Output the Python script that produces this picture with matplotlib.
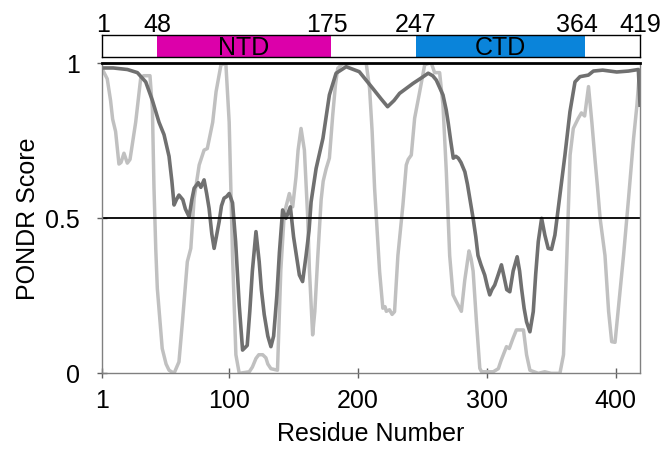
import numpy as np
import matplotlib
matplotlib.use('Agg')
import matplotlib.pyplot as plt
import matplotlib.transforms as mtransforms

plt.rcParams['font.family'] = ['Liberation Sans', 'DejaVu Sans']

# dark grey curve (residue, score)
dark_res = [1, 10, 21, 28.7, 35.2, 40.4, 45.5, 49.4, 53.3, 55.5, 57.2, 59, 61, 64, 66, 68.9,
            71, 72.8, 76, 78, 80.5, 82.5, 84.4, 86.5, 88.3, 90, 92.2, 94, 96, 98, 100,
            102.6, 105, 107.8, 110.4, 114, 116, 118, 120.8, 123.3, 125, 127.2, 130, 132.4,
            134.5, 137, 139, 141.5, 144.1, 147.5, 150, 151.9, 154.5, 157, 159.7, 162, 163.6,
            167.5, 172.8, 177.8, 183, 190.8, 201, 211.5, 218, 223, 228, 232.3, 242.7, 250,
            254.5, 258, 260.8, 266, 268.5, 270, 272, 274, 276, 277.9, 280, 283, 285, 287,
            289.4, 291.5, 293.2, 295.5, 298.4, 300.5, 302.3, 304, 306.2, 308.8, 311.4, 313.5,
            315.5, 317.9, 320.5, 323.6, 325.5, 327, 329, 330.9, 333.5, 336.1, 338, 340, 342.6,
            345.1, 347.7, 350.3, 352.9, 356.8, 360.7, 364.6, 368.5, 372.4, 378.9, 382.8, 390,
            400.9, 410, 417.7, 419]
dark_score = [0.985, 0.985, 0.98, 0.97, 0.94, 0.88, 0.81, 0.77, 0.70, 0.62, 0.543, 0.56, 0.575,
              0.56, 0.53, 0.505, 0.56, 0.597, 0.615, 0.60, 0.624, 0.58, 0.532, 0.45, 0.403,
              0.44, 0.489, 0.54, 0.565, 0.57, 0.58, 0.55, 0.425, 0.22, 0.075, 0.09, 0.20, 0.33,
              0.457, 0.36, 0.27, 0.19, 0.12, 0.086, 0.12, 0.25, 0.39, 0.527, 0.50, 0.537, 0.44,
              0.388, 0.317, 0.296, 0.38, 0.46, 0.553, 0.661, 0.758, 0.898, 0.968, 0.989, 0.973,
              0.919, 0.885, 0.86, 0.88, 0.903, 0.935, 0.955, 0.968, 0.96, 0.946, 0.898, 0.85,
              0.81, 0.75, 0.694, 0.70, 0.694, 0.68, 0.65, 0.61, 0.56, 0.50, 0.44, 0.38, 0.35,
              0.317, 0.28, 0.253, 0.27, 0.285, 0.317, 0.35, 0.31, 0.27, 0.263, 0.33, 0.376,
              0.33, 0.274, 0.21, 0.166, 0.134, 0.199, 0.32, 0.425, 0.50, 0.446, 0.403, 0.40,
              0.446, 0.575, 0.704, 0.844, 0.94, 0.957, 0.962, 0.975, 0.978, 0.972, 0.975, 0.98,
              0.865]

# light grey curve (residue, score)
light_res = [1, 5.3, 7.9, 9.5, 11.8, 14.4, 16, 18.3, 20.9, 23, 27.4, 31.3, 33.5, 36.5, 38.5,
             40.4, 41.6, 43, 44.2, 48, 51, 53.3, 57.2, 61, 63.7, 67.5, 70.2, 72.8, 76.7, 80.5,
             83, 87.2, 89.8, 93.6, 97.4, 100, 102.6, 105.2, 107.8, 115.6, 118, 120.8, 123, 126,
             128.5, 130, 132.4, 137.5, 140.1, 142.8, 146.7, 149.3, 151.9, 153.5, 155.8, 158.4,
             161, 162.3, 164.8, 166.5, 168.7, 171.4, 173, 175.3, 177.8, 179, 180.4, 182.5,
             184.3, 188, 200, 206.4, 209, 211, 212.9, 215, 216.8, 219.3, 221, 222, 224.5, 226.5,
             228.4, 231, 234.9, 237.5, 239, 241.4, 244, 247.9, 251.8, 255, 257, 259.5, 263.4,
             266, 268.6, 271.2, 273.8, 276.4, 279, 280.3, 282.9, 286.2, 287.8, 289.4, 292,
             294.6, 296, 305, 309, 311, 312.9, 315.3, 317.5, 320.4, 323, 328.5, 330.9, 333.5,
             340, 345, 350, 356.8, 359.6, 362.2, 364.7, 367.2, 371.1, 373.5, 376, 379, 381.6,
             384.2, 386, 388, 391.8, 394.6, 397, 399.6, 402.4, 406.2, 410.1, 414, 416.6, 418.6]
light_score = [0.985, 0.95, 0.88, 0.82, 0.78, 0.675, 0.68, 0.71, 0.678, 0.69, 0.81, 0.952,
               0.96, 0.96, 0.96, 0.85, 0.60, 0.40, 0.274, 0.08, 0.03, 0.01, 0.0, 0.037, 0.166,
               0.36, 0.403, 0.565, 0.672, 0.72, 0.725, 0.81, 0.908, 0.995, 1.0, 0.81, 0.38,
               0.06, 0.0, 0.005, 0.02, 0.048, 0.06, 0.06, 0.05, 0.03, 0.015, 0.01, 0.333,
               0.516, 0.58, 0.537, 0.634, 0.72, 0.79, 0.72, 0.50, 0.333, 0.124, 0.20, 0.37,
               0.56, 0.62, 0.66, 0.694, 0.76, 0.833, 0.93, 0.984, 0.998, 1.0, 1.0, 0.919, 0.78,
               0.597, 0.45, 0.328, 0.21, 0.215, 0.20, 0.205, 0.19, 0.199, 0.38, 0.543, 0.672,
               0.69, 0.704, 0.823, 0.908, 0.995, 1.0, 1.0, 0.97, 0.97, 0.866, 0.65, 0.38,
               0.253, 0.231, 0.21, 0.20, 0.30, 0.395, 0.37, 0.33, 0.166, 0.016, 0.005, 0.005,
               0.015, 0.04, 0.06, 0.086, 0.08, 0.113, 0.14, 0.14, 0.06, 0.01, 0.0, 0.005, 0.0,
               0.0, 0.06, 0.38, 0.704, 0.79, 0.823, 0.84, 0.83, 0.925, 0.81, 0.683, 0.60, 0.50,
               0.38, 0.20, 0.102, 0.10, 0.22, 0.38, 0.565, 0.758, 0.865, 0.975]

# domain bar
domain_names = ['NTD', 'CTD']
domain_starts = [44, 245]
domain_ends = [179, 376]
domain_colors = ['#DC00AA', '#0A84DA']
bar_labels = ['1', '48', '175', '247', '364', '419']
bar_label_pos = [2, 44, 176, 245, 370, 419]

x_ticks = [1, 100, 200, 300, 400]
y_ticks = [0, 0.5, 1]
y_ticklabels = ['0', '0.5', '1']

fig = plt.figure(figsize=(6.62, 4.5), dpi=100)
ax = fig.add_axes([0.1536, 0.1704, 0.8132, 0.6889])
bx = fig.add_axes([0.1536, 0.874, 0.8132, 0.048])

# curves
ax.plot(light_res, light_score, color='#c0c0c0', linewidth=2.5, solid_joinstyle='round')
ax.plot(dark_res, dark_score, color='#707070', linewidth=2.6, solid_joinstyle='round')
ax.axhline(0.5, color='black', linewidth=1.3)

ax.set_xlim(1, 419)
ax.set_ylim(0, 1)
ax.set_xticks(x_ticks)
ax.set_yticks(y_ticks)
ax.set_yticklabels(y_ticklabels)
ax.tick_params(direction='inout', length=7, width=1, color='#606060', labelsize=18, pad=8)
ax.tick_params(axis='y', pad=12)
for side in ['left', 'bottom', 'right']:
    ax.spines[side].set_color('#808080')
    ax.spines[side].set_linewidth(1)
ax.spines['top'].set_color('black')
ax.spines['top'].set_linewidth(2)
ax.set_xlabel('Residue Number', fontsize=18, labelpad=6)
ax.set_ylabel('PONDR Score', fontsize=18, labelpad=4)

# domain bar
bx.set_xlim(1, 419)
bx.set_ylim(0, 1)
bx.set_xticks([])
bx.set_yticks([])
for s in bx.spines.values():
    s.set_linewidth(1)
    s.set_color('black')
for name, st, en, c in zip(domain_names, domain_starts, domain_ends, domain_colors):
    bx.axvspan(st, en, color=c, linewidth=0)
    bx.text((st + en) / 2, 0.42, name, ha='center', va='center', fontsize=18)
for lab, p in zip(bar_labels, bar_label_pos):
    bx.text(p, 1.14, lab, ha='center', va='baseline', fontsize=18, clip_on=False)

plt.savefig('out.png', dpi=100)
